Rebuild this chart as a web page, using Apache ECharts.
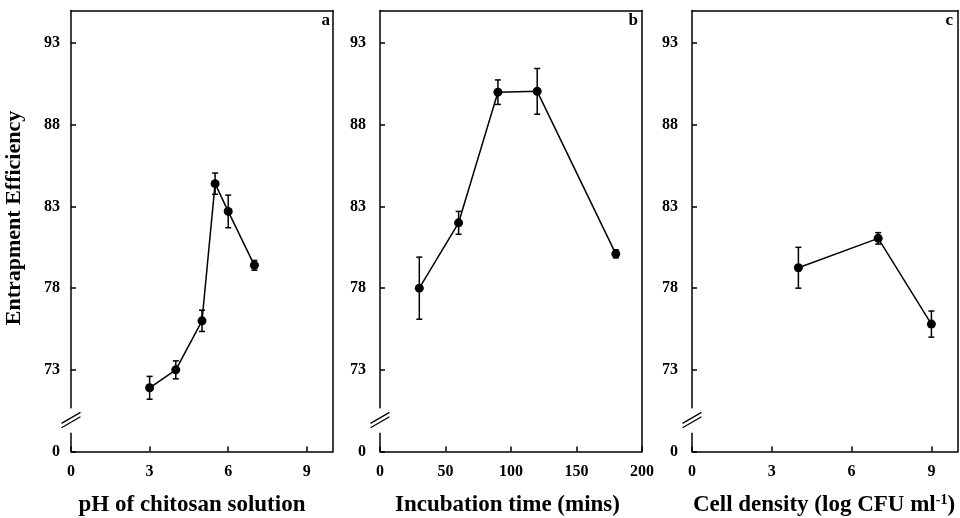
<!DOCTYPE html>
<html>
<head>
<meta charset="utf-8">
<script src="https://cdn.jsdelivr.net/npm/echarts@6/dist/echarts.min.js"></script>
<style>html,body{margin:0;padding:0;background:#fff}#c{width:960px;height:518px}</style>
</head>
<body>
<div id="c"></div>
<script>
// ---- data ----
const phX = [3, 4, 5, 5.5, 6, 7];
const phY = [71.9, 73.0, 76.0, 84.4, 82.7, 79.4];
const phErr = [0.7, 0.55, 0.65, 0.65, 1.0, 0.3];

const timeX = [30, 60, 90, 120, 180];
const timeY = [78.0, 82.0, 90.0, 90.05, 80.1];
const timeErr = [1.9, 0.7, 0.75, 1.4, 0.25];

const cellX = [4, 7, 9];
const cellY = [79.25, 81.05, 75.8];
const cellErr = [1.25, 0.35, 0.8];

const xTitles = ['pH of chitosan solution', 'Incubation time (mins)', 'Cell density (log CFU ml{sup|-1})'];
const panelLetters = ['a', 'b', 'c'];
const yTitle = 'Entrapment Efficiency';

// y axis with a break: axis value 68 is labelled "0"
const yMin = 68, yMax = 95, yStep = 5;
const yZeroLabelAt = 68;
const breakGapLo = 69.15, breakGapHi = 70.64;
const breakLines = [70.06, 69.79];

const xRanges = [[0, 10, 3], [0, 200, 50], [0, 10, 3]];

// ---- layout ----
const FONT = '"Liberation Serif", "Times New Roman", serif';
const grids = [
  {left: 71, top: 10.5, width: 262, height: 441, outerBoundsMode: 'none', containLabel: false},
  {left: 380, top: 10.5, width: 262, height: 441, outerBoundsMode: 'none', containLabel: false},
  {left: 692, top: 10.5, width: 266, height: 441, outerBoundsMode: 'none', containLabel: false}
];
const yLabelMargins = [11, 14, 14];
const letterRight = [630, 322, 7];
const namePads = [[0, 20, 0, 0], [0, 7, 0, 0], [0, 2, 0, 0]];

const datasets = [
  [phX, phY, phErr],
  [timeX, timeY, timeErr],
  [cellX, cellY, cellErr]
];

const xAxes = [], yAxes = [], series = [], titles = [];
grids.forEach((g, i) => {
  const [xmin, xmax, xint] = xRanges[i];
  xAxes.push({
    type: 'value', gridIndex: i, min: xmin, max: xmax, interval: xint, position: 'bottom',
    splitLine: {show: false},
    axisLine: {show: true, onZero: false, lineStyle: {color: '#000', width: 1.5}},
    axisTick: {show: true, inside: true, length: 5, lineStyle: {color: '#000', width: 1.5}},
    axisLabel: {
      color: '#000', fontFamily: FONT, fontWeight: 'bold', fontSize: 16, margin: 12,
      showMaxLabel: xmax % xint === 0,
      formatter: v => (v % xint === 0 ? String(v) : '')
    },
    name: xTitles[i], nameLocation: 'middle', nameGap: 42,
    nameTextStyle: {
      color: '#000', fontFamily: FONT, fontWeight: 'bold', fontSize: 23, padding: namePads[i],
      rich: {sup: {fontFamily: FONT, fontWeight: 'bold', fontSize: 14, color: '#000', verticalAlign: 'top', padding: [0, 0, 10, 0]}}
    }
  });
  xAxes.push({
    type: 'value', gridIndex: i, min: xmin, max: xmax, position: 'top',
    splitLine: {show: false}, axisTick: {show: false}, axisLabel: {show: false},
    axisLine: {show: true, onZero: false, lineStyle: {color: '#000', width: 1.5}}
  });
  yAxes.push({
    type: 'value', gridIndex: i, min: yMin, max: yMax, interval: yStep, position: 'left',
    splitLine: {show: false},
    axisLine: {show: true, onZero: false, lineStyle: {color: '#000', width: 1.5}},
    axisTick: {show: true, inside: true, length: 5, lineStyle: {color: '#000', width: 1.5}},
    axisLabel: {
      color: '#000', fontFamily: FONT, fontWeight: 'bold', fontSize: 16, margin: yLabelMargins[i],
      showMaxLabel: false,
      formatter: v => (v === yZeroLabelAt ? '0' : ((v - yMin) % yStep === 0 ? String(v) : ''))
    }
  });
  yAxes.push({
    type: 'value', gridIndex: i, min: yMin, max: yMax, position: 'right',
    splitLine: {show: false}, axisTick: {show: false}, axisLabel: {show: false},
    axisLine: {show: true, onZero: false, lineStyle: {color: '#000', width: 1.5}}
  });

  const [xs, ys, es] = datasets[i];
  // error bars
  series.push({
    type: 'custom', xAxisIndex: i * 2, yAxisIndex: i * 2, z: 3, silent: true,
    data: xs.map((x, k) => [x, ys[k] - es[k], ys[k] + es[k]]),
    encode: {x: 0, y: [1, 2]},
    renderItem: (params, api) => {
      const x = api.value(0);
      const top = api.coord([x, api.value(2)]);
      const bot = api.coord([x, api.value(1)]);
      const cap = 3;
      const st = {stroke: '#000', lineWidth: 1.5};
      return {type: 'group', children: [
        {type: 'line', shape: {x1: top[0], y1: top[1], x2: bot[0], y2: bot[1]}, style: st},
        {type: 'line', shape: {x1: top[0] - cap, y1: top[1], x2: top[0] + cap, y2: top[1]}, style: st},
        {type: 'line', shape: {x1: bot[0] - cap, y1: bot[1], x2: bot[0] + cap, y2: bot[1]}, style: st}
      ]};
    }
  });
  // line + markers
  series.push({
    type: 'line', xAxisIndex: i * 2, yAxisIndex: i * 2, z: 4,
    data: xs.map((x, k) => [x, ys[k]]),
    symbol: 'circle', symbolSize: 9, showSymbol: true,
    lineStyle: {color: '#000', width: 1.5},
    itemStyle: {color: '#000'},
    animation: false
  });
  // axis break
  series.push({
    type: 'custom', xAxisIndex: i * 2, yAxisIndex: i * 2, z: 5, silent: true, clip: false,
    data: [[xmin, (breakGapLo + breakGapHi) / 2]],
    encode: {x: 0, y: 1},
    renderItem: (params, api) => {
      const x = api.value(0);
      const hi = api.coord([x, breakGapHi]);
      const lo = api.coord([x, breakGapLo]);
      const children = [{type: 'rect', shape: {x: hi[0] - 3, y: hi[1], width: 6, height: lo[1] - hi[1]}, style: {fill: '#fff'}}];
      breakLines.forEach(v => {
        const c = api.coord([x, v]);
        children.push({type: 'line', shape: {x1: c[0] - 9.5, y1: c[1] + 5.5, x2: c[0] + 9.5, y2: c[1] - 5.5}, style: {stroke: '#000', lineWidth: 1.3}});
      });
      return {type: 'group', children};
    }
  });
  titles.push({
    text: panelLetters[i], right: letterRight[i], top: 12, padding: 0,
    textStyle: {color: '#000', fontFamily: FONT, fontWeight: 'bold', fontSize: 17}
  });
});

const chart = echarts.init(document.getElementById('c'), null, {renderer: 'canvas'});
chart.setOption({
  animation: false,
  backgroundColor: '#fff',
  title: titles,
  grid: grids,
  xAxis: xAxes,
  yAxis: yAxes,
  series: series,
  graphic: [{
    type: 'text', x: 14, y: 218, rotation: Math.PI / 2,
    style: {text: yTitle, fill: '#000', font: 'bold 22px ' + FONT, align: 'center', verticalAlign: 'middle'}
  }]
});
</script>
</body>
</html>
